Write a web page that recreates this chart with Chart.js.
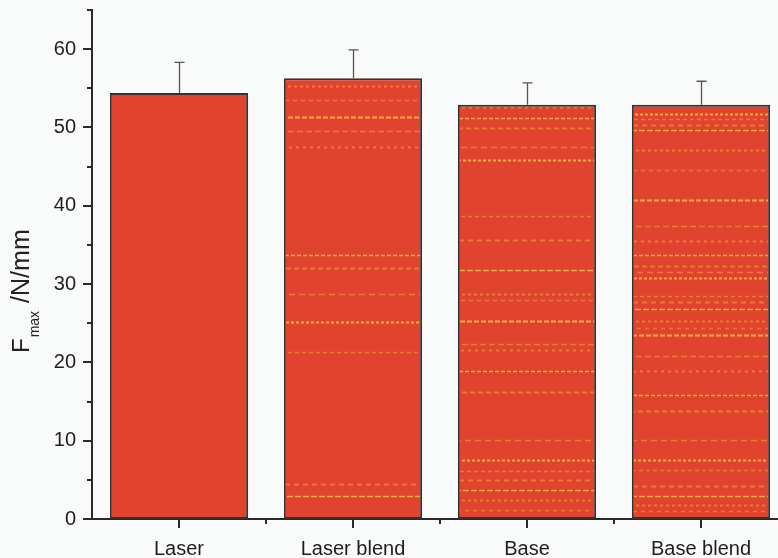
<!DOCTYPE html>
<html>
<head>
<meta charset="utf-8">
<script src="https://cdn.jsdelivr.net/npm/chart.js@4"></script>
<style>
html, body { margin: 0; padding: 0; background: #f9fafa; overflow: hidden; }
</style>
</head>
<body>
<canvas id="myChart" width="800" height="558"></canvas>
<script>
var categories = ["Laser", "Laser blend", "Base", "Base blend"];
var fmaxMeans = [54.4, 56.3, 52.9, 52.9];
var fmaxErrors = [3.9, 3.6, 2.8, 3.0];
var yTickLabels = [0, 10, 20, 30, 40, 50, 60];

var FONT = '"Liberation Sans", Arial, sans-serif';
var INK = '#2a2a2a';

// yellow streaks seen in the scanned bars (canvas y positions)
var streaks = [
    [],
    [86, 100, 117, 131, 147, 255, 268, 294, 322, 352, 484, 496],
    [107, 118, 128, 147, 160, 216, 240, 270, 294, 300, 321, 344, 350, 371, 392, 440, 460, 471, 480, 490, 500, 510],
    [114, 119, 125, 130, 150, 170, 200, 226, 241, 255, 266, 272, 278, 296, 302, 309, 321, 328, 335, 356, 371, 395, 411, 440, 460, 470, 486, 496, 505, 511]
];

function makeFill(lines, k) {
    var c = document.createElement('canvas');
    c.width = 800; c.height = 558;
    var g = c.getContext('2d');
    g.fillStyle = '#e0442f';
    g.fillRect(0, 0, 800, 558);
    g.filter = 'blur(0.7px)';
    for (var i = 0; i < lines.length; i++) {
        g.strokeStyle = (i + k) % 3 === 0 ? 'rgba(255,214,70,0.7)' : 'rgba(250,170,60,0.5)';
        g.lineWidth = (i % 2 === 0) ? 2 : 1.5;
        g.setLineDash([3 + (i % 4), 2 + ((i + k) % 3)]);
        g.lineDashOffset = i * 3;
        g.beginPath();
        g.moveTo(0, lines[i] + 0.5);
        g.lineTo(800, lines[i] + 0.5);
        g.stroke();
    }
    return g.createPattern(c, 'no-repeat');
}

var ctx = document.getElementById('myChart');
var fills = streaks.map(function (s, k) { return makeFill(s, k); });

var extras = {
    id: 'extras',
    afterDatasetsDraw: function (chart) {
        var g = chart.ctx, xs = chart.scales.x, ys = chart.scales.y, area = chart.chartArea;
        g.save();

        // error bars (upper only)
        g.strokeStyle = '#555';
        g.lineWidth = 1.3;
        for (var i = 0; i < fmaxMeans.length; i++) {
            var x = Math.round(xs.getPixelForValue(i)) + 0.5;
            var yTop = ys.getPixelForValue(fmaxMeans[i] + fmaxErrors[i]);
            var yBar = ys.getPixelForValue(fmaxMeans[i]);
            g.beginPath();
            g.moveTo(x, yBar);
            g.lineTo(x, yTop);
            g.moveTo(x - 5, yTop);
            g.lineTo(x + 5, yTop);
            g.stroke();
        }

        // y ticks, major + minor
        g.strokeStyle = INK;
        g.lineWidth = 2;
        for (var v = 0; v <= 65; v += 5) {
            var y = Math.round(ys.getPixelForValue(v));
            var len = (v % 10 === 0) ? 9 : 5;
            g.beginPath();
            g.moveTo(area.left, y);
            g.lineTo(area.left - len, y);
            g.stroke();
        }

        // x ticks, majors at categories, minors between
        for (var j = 0; j < categories.length; j++) {
            var cx = Math.round(xs.getPixelForValue(j));
            g.beginPath();
            g.moveTo(cx, area.bottom);
            g.lineTo(cx, area.bottom + 9);
            g.stroke();
            if (j < categories.length - 1) {
                var mx = Math.round((xs.getPixelForValue(j) + xs.getPixelForValue(j + 1)) / 2);
                g.beginPath();
                g.moveTo(mx, area.bottom);
                g.lineTo(mx, area.bottom + 5);
                g.stroke();
            }
        }

        // y axis title F_max /N/mm
        g.translate(29, 353);
        g.rotate(-Math.PI / 2);
        g.fillStyle = '#222';
        g.textBaseline = 'alphabetic';
        g.font = '24px ' + FONT;
        g.fillText('F', 0, 0);
        var w1 = g.measureText('F').width;
        g.font = '14px ' + FONT;
        g.fillText('max', w1 + 1, 10);
        var w2 = g.measureText('max').width;
        g.font = '25px ' + FONT;
        g.fillText('/N/mm', w1 + 1 + w2 + 8, 0);

        g.restore();
    }
};

var myChart = new Chart(ctx, {
    type: 'bar',
    data: {
        labels: categories,
        datasets: [{
            data: fmaxMeans,
            backgroundColor: fills,
            borderColor: '#333',
            borderWidth: 2,
            borderSkipped: false,
            barPercentage: 0.795,
            categoryPercentage: 1
        }]
    },
    options: {
        responsive: false,
        animation: false,
        layout: { padding: { top: 10, right: 12, left: 0, bottom: 0 } },
        plugins: { legend: { display: false }, tooltip: { enabled: false } },
        scales: {
            x: {
                offset: true,
                grid: { display: false, drawTicks: false },
                border: { display: true, color: INK, width: 2 },
                ticks: { color: '#1e1e1e', font: { family: FONT, size: 20 }, padding: 18, maxRotation: 0 },
                afterFit: function (s) { s.height = 39; s.paddingLeft = 0; s.paddingRight = 0; }
            },
            y: {
                min: 0,
                max: 65,
                grid: { display: false, drawTicks: false },
                border: { display: true, color: INK, width: 2 },
                ticks: {
                    stepSize: 10,
                    color: '#1e1e1e',
                    font: { family: FONT, size: 20 },
                    padding: 16,
                    callback: function (v) { return yTickLabels.indexOf(v) >= 0 ? v : ''; }
                },
                afterFit: function (s) { s.width = 92; s.paddingTop = 0; s.paddingBottom = 0; }
            }
        }
    },
    plugins: [extras]
});
</script>
</body>
</html>
